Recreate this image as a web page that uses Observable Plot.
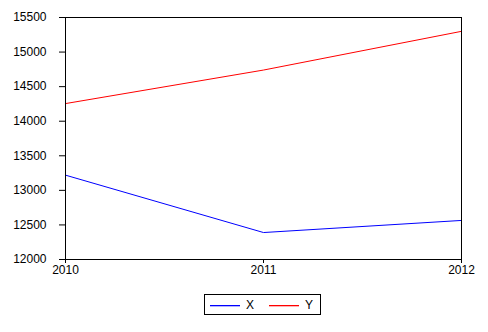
<!DOCTYPE html>
<html>
<head>
<meta charset="utf-8">
<script src="https://cdn.jsdelivr.net/npm/d3@7"></script>
<script src="https://cdn.jsdelivr.net/npm/@observablehq/plot@0.6"></script>
<style>
  body { margin: 0; background: #fff; font-family: "Liberation Sans", Arial, sans-serif; }
  #wrap { position: relative; width: 488px; height: 332px; }
  #legend { position: absolute; left: 0; top: 280px; }
</style>
</head>
<body>
<div id="wrap"><div id="chart"></div><div id="legend"></div></div>
<script>
const years = [2010, 2011, 2012];
const seriesX = [13220, 12390, 12565];
const seriesY = [14255, 14740, 15300];
const seriesNames = ["X", "Y"];
const seriesColors = ["#0000ff", "#ff0000"];
const yTicks = [12000, 12500, 13000, 13500, 14000, 14500, 15000, 15500];

const data = [];
years.forEach((yr, i) => {
  data.push({year: yr, value: seriesX[i], series: "X"});
  data.push({year: yr, value: seriesY[i], series: "Y"});
});

const chart = Plot.plot({
  width: 488,
  height: 280,
  marginLeft: 65,
  marginTop: 17,
  marginRight: 27,
  marginBottom: 21,
  style: {fontFamily: "'Liberation Sans', Arial, sans-serif", fontSize: "12px", color: "#000", background: "#fff"},
  x: {domain: [2010, 2012]},
  y: {domain: [12000, 15500]},
  color: {domain: seriesNames, range: seriesColors},
  marks: [
    Plot.axisY({ticks: yTicks, tickSize: 6, tickPadding: 13, label: null, tickFormat: d => String(d)}),
    Plot.axisX({ticks: years, tickSize: 4, tickPadding: 2, label: null, tickFormat: d => String(d)}),
    Plot.line(data, {x: "year", y: "value", stroke: "series", strokeWidth: 1}),
    Plot.frame({stroke: "#000", strokeWidth: 1})
  ]
});
document.getElementById("chart").appendChild(chart);

// Legend as a small SVG below the chart
const svg = d3.select("#legend").append("svg")
  .attr("width", 488).attr("height", 52)
  .style("font-family", "'Liberation Sans', Arial, sans-serif")
  .style("font-size", "12px");
svg.append("rect").attr("x", 204.5).attr("y", 14.5).attr("width", 116).attr("height", 20)
  .attr("fill", "none").attr("stroke", "#000");
const offsets = [210, 269];
seriesNames.forEach((name, i) => {
  svg.append("rect").attr("x", offsets[i]).attr("width", 30)
    .attr("y", 25).attr("height", 1.3).attr("fill", seriesColors[i])
    .style("fill", seriesColors[i]);
  svg.append("text").attr("x", offsets[i] + 36).attr("y", 25).attr("dy", "0.35em")
    .attr("fill", "#000").text(name);
});
</script>
</body>
</html>
